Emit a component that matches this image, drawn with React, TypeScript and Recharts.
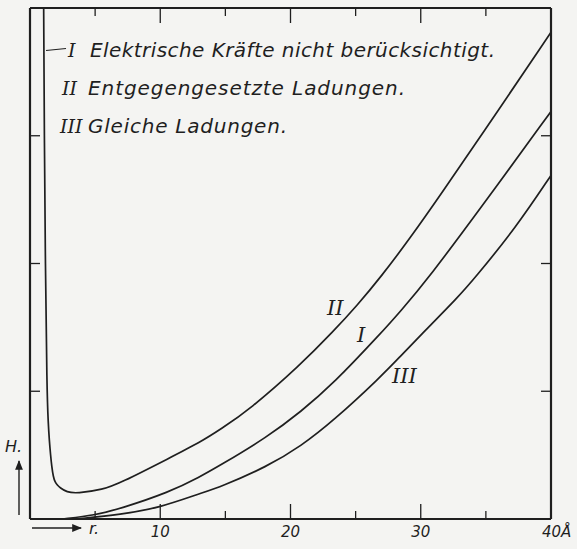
import { LineChart, Line, XAxis, YAxis } from "recharts";

// r in Å, H in the figure's units (frame is 0..40 by 0..4)
const rI = [2.5, 5, 6.9, 10.7, 13.05, 14.6, 18.2, 20.8, 23.3, 26.9, 28.4, 30.7, 34.5, 40];
const hI = [0, 0.03, 0.08, 0.21, 0.33, 0.42, 0.64, 0.84, 1.06, 1.45, 1.62, 1.9, 2.42, 3.19];

const rII = [1.05, 1.1, 1.18, 1.3, 1.4, 1.48, 1.58, 1.67, 1.79, 1.92, 2.1, 2.3, 2.82, 3.6, 5.6, 6.9, 10.75, 13.05, 14.6, 16.9, 20.7, 23.3, 25.1, 26.9, 29.2, 31.6, 34.5, 40];
const hII = [4, 3, 2, 1, 0.75, 0.62, 0.5, 0.41, 0.33, 0.29, 0.265, 0.245, 0.21, 0.2, 0.23, 0.28, 0.48, 0.6, 0.7, 0.86, 1.2, 1.47, 1.67, 1.89, 2.2, 2.55, 2.98, 3.81];

const rIII = [3.5, 7, 10, 13.05, 14.6, 18.2, 20.8, 23.3, 26.9, 28.4, 30.1, 32.9, 34.1, 37.3, 40];
const hIII = [0, 0.035, 0.09, 0.2, 0.25, 0.41, 0.57, 0.77, 1.11, 1.27, 1.45, 1.74, 1.88, 2.28, 2.69];

const xTicks = [5, 10, 15, 20, 25, 30, 35, 40];
const xLabels: Record<number, string> = { 10: "10", 20: "20", 30: "30", 40: "40Å" };
const yTicks = [1, 2, 3];

const numerals = ["I", "II", "III"];
const seriesNames = [
  "Elektrische Kräfte nicht berücksichtigt.",
  "Entgegengesetzte Ladungen.",
  "Gleiche Ladungen.",
];

const INK = "#1f1f1f";
const BG = "#f4f4f2";
const SANS = "'DejaVu Sans', sans-serif";
const SERIF = "'DejaVu Serif', serif";

const toPoints = (rs: number[], hs: number[]) => rs.map((r, i) => ({ r, h: hs[i] }));
const dataI = toPoints(rI, hI);
const dataII = toPoints(rII, hII);
const dataIII = toPoints(rIII, hIII);

const frame = { stroke: INK, strokeWidth: 2.2 };

const BottomTick = (props: any) => {
  const { x, y, payload } = props;
  const v = payload.value;
  const len = v % 10 === 0 ? 15 : 8;
  const label = xLabels[v];
  return (
    <g>
      {v < 40 && <line x1={x} y1={y} x2={x} y2={y - len} stroke={INK} strokeWidth={1.3} />}
      {label && (
        <text
          x={v === 40 ? x - 9 : x}
          y={y + 18}
          textAnchor={v === 40 ? "start" : "middle"}
          fontFamily={SANS}
          fontStyle="italic"
          fontWeight={300}
          fontSize={15}
          fill={INK}
        >
          {label}
        </text>
      )}
    </g>
  );
};

const TopTick = (props: any) => {
  const { x, y, payload } = props;
  const v = payload.value;
  if (v >= 40) return <g />;
  const len = v % 10 === 0 ? 15 : 8;
  return <line x1={x} y1={y} x2={x} y2={y + len} stroke={INK} strokeWidth={1.3} />;
};

const LeftTick = (props: any) => {
  const { x, y } = props;
  return <line x1={x} y1={y} x2={x + 10} y2={y} stroke={INK} strokeWidth={1.3} />;
};

const RightTick = (props: any) => {
  const { x, y } = props;
  return <line x1={x} y1={y} x2={x - 10} y2={y} stroke={INK} strokeWidth={1.3} />;
};

export default function App() {
  const legendY = [57, 95, 133];
  const numX = [68, 62, 60];
  const textW = [405, 317, 199];
  const curveLabels = [
    { n: "II", x: 327, y: 315 },
    { n: "I", x: 357, y: 342 },
    { n: "III", x: 392, y: 383 },
  ];

  return (
    <div style={{ position: "absolute", left: 0, top: 0, width: 577, height: 549, background: BG, overflow: "hidden" }}>
      <LineChart width={577} height={549} margin={{ top: 7, right: 25, bottom: 29, left: 29 }}>
        <XAxis
          dataKey="r"
          type="number"
          domain={[0, 40]}
          ticks={xTicks}
          interval={0}
          allowDataOverflow
          height={1}
          tickSize={0}
          tickMargin={0}
          tickLine={false}
          axisLine={frame}
          tick={(p: any) => <BottomTick {...p} />}
        />
        <XAxis
          xAxisId="top"
          orientation="top"
          dataKey="r"
          type="number"
          domain={[0, 40]}
          ticks={xTicks}
          interval={0}
          allowDataOverflow
          height={1}
          tickSize={0}
          tickMargin={0}
          tickLine={false}
          axisLine={frame}
          tick={(p: any) => <TopTick {...p} />}
        />
        <YAxis
          type="number"
          domain={[0, 4]}
          ticks={yTicks}
          interval={0}
          allowDataOverflow
          width={1}
          tickSize={0}
          tickMargin={0}
          tickLine={false}
          axisLine={frame}
          tick={(p: any) => <LeftTick {...p} />}
        />
        <YAxis
          yAxisId="right"
          orientation="right"
          type="number"
          domain={[0, 4]}
          ticks={yTicks}
          interval={0}
          allowDataOverflow
          width={1}
          tickSize={0}
          tickMargin={0}
          tickLine={false}
          axisLine={frame}
          tick={(p: any) => <RightTick {...p} />}
        />
        <Line data={dataII} dataKey="h" type="basis" stroke={INK} strokeWidth={1.7} dot={false} isAnimationActive={false} />
        <Line data={dataI} dataKey="h" type="basis" stroke={INK} strokeWidth={1.7} dot={false} isAnimationActive={false} />
        <Line data={dataIII} dataKey="h" type="basis" stroke={INK} strokeWidth={1.7} dot={false} isAnimationActive={false} />
      </LineChart>

      <svg width={577} height={549} style={{ position: "absolute", left: 0, top: 0, pointerEvents: "none" }}>
        <defs>
          <marker id="ah" viewBox="0 0 10 10" refX="9" refY="5" markerWidth="7" markerHeight="7" orient="auto">
            <path d="M0,1 L10,5 L0,9 Z" fill={INK} />
          </marker>
        </defs>

        {/* legend */}
        <line x1={46} y1={50.5} x2={66} y2={48.5} stroke={INK} strokeWidth={1.1} />
        {numerals.map((n, i) => (
          <text key={n} x={numX[i]} y={legendY[i]} fontFamily={SERIF} fontStyle="italic" fontSize={19} fill={INK}>
            {n}
          </text>
        ))}
        {seriesNames.map((s, i) => (
          <text
            key={s}
            x={i === 0 ? 90 : 88}
            y={legendY[i]}
            textLength={textW[i]}
            lengthAdjust="spacing"
            fontFamily={SANS}
            fontStyle="italic"
            fontWeight={300}
            fontSize={20}
            fill={INK}
          >
            {s}
          </text>
        ))}

        {/* curve labels */}
        {curveLabels.map((c) => (
          <text key={c.n} x={c.x} y={c.y} fontFamily={SERIF} fontStyle="italic" fontSize={21} fill={INK}>
            {c.n}
          </text>
        ))}

        {/* axis names */}
        <text x={5} y={452} fontFamily={SANS} fontStyle="italic" fontWeight={300} fontSize={16} fill={INK}>
          H.
        </text>
        <line x1={19} y1={515} x2={19} y2={461} stroke={INK} strokeWidth={1.4} markerEnd="url(#ah)" />
        <line x1={32} y1={528} x2={81} y2={528} stroke={INK} strokeWidth={1.4} markerEnd="url(#ah)" />
        <text x={89} y={534} fontFamily={SANS} fontStyle="italic" fontWeight={300} fontSize={16} fill={INK}>
          r.
        </text>
      </svg>
    </div>
  );
}
